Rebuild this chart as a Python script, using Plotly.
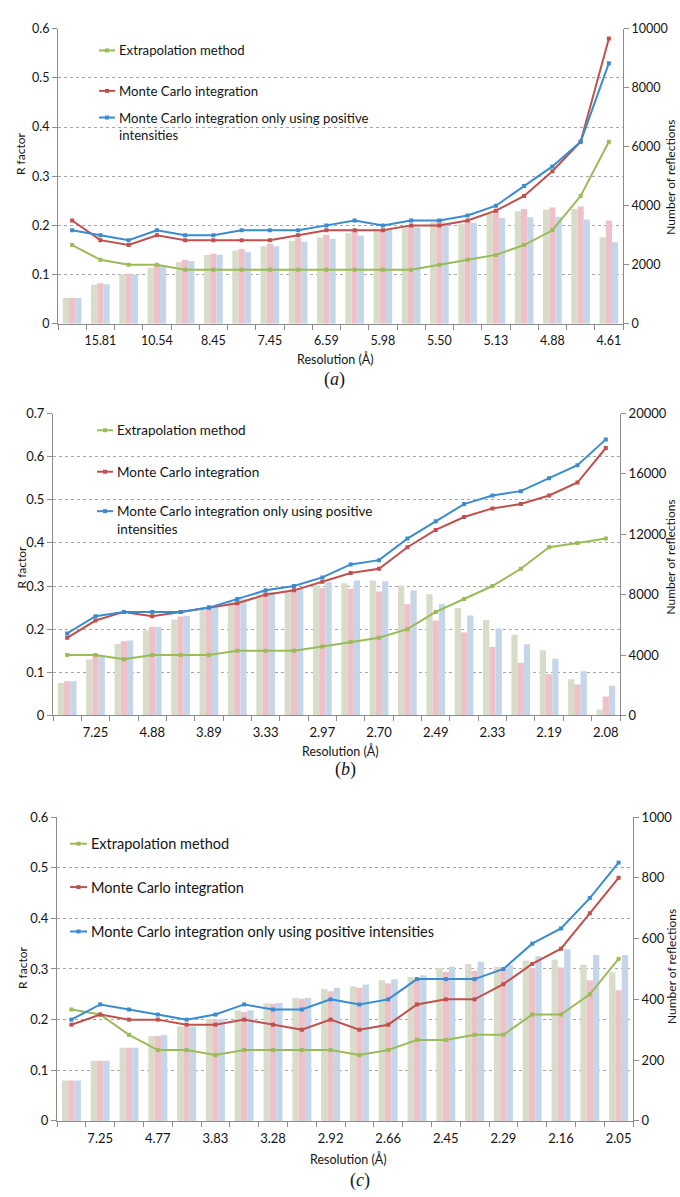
import plotly.graph_objects as go

# ---------------- data ----------------
# Resolution-shell labels (shown on every second bin)
a_labels = ["15.81", "10.54", "8.45", "7.45", "6.59", "5.98", "5.50", "5.13", "4.88", "4.61"]
b_labels = ["7.25", "4.88", "3.89", "3.33", "2.97", "2.70", "2.49", "2.33", "2.19", "2.08"]
c_labels = ["7.25", "4.77", "3.83", "3.28", "2.92", "2.66", "2.45", "2.29", "2.16", "2.05"]

# R factors per resolution shell
a_extrap = [0.16, 0.13, 0.12, 0.12, 0.11, 0.11, 0.11, 0.11, 0.11, 0.11,
            0.11, 0.11, 0.11, 0.12, 0.13, 0.14, 0.16, 0.19, 0.26, 0.37]
a_mc = [0.21, 0.17, 0.16, 0.18, 0.17, 0.17, 0.17, 0.17, 0.18, 0.19,
        0.19, 0.19, 0.20, 0.20, 0.21, 0.23, 0.26, 0.31, 0.37, 0.58]
a_pos = [0.19, 0.18, 0.17, 0.19, 0.18, 0.18, 0.19, 0.19, 0.19, 0.20,
         0.21, 0.20, 0.21, 0.21, 0.22, 0.24, 0.28, 0.32, 0.37, 0.53]

b_extrap = [0.14, 0.14, 0.13, 0.14, 0.14, 0.14, 0.15, 0.15, 0.15, 0.16,
            0.17, 0.18, 0.20, 0.24, 0.27, 0.30, 0.34, 0.39, 0.40, 0.41]
b_mc = [0.18, 0.22, 0.24, 0.23, 0.24, 0.25, 0.26, 0.28, 0.29, 0.31,
        0.33, 0.34, 0.39, 0.43, 0.46, 0.48, 0.49, 0.51, 0.54, 0.62]
b_pos = [0.19, 0.23, 0.24, 0.24, 0.24, 0.25, 0.27, 0.29, 0.30, 0.32,
         0.35, 0.36, 0.41, 0.45, 0.49, 0.51, 0.52, 0.55, 0.58, 0.64]

c_extrap = [0.22, 0.21, 0.17, 0.14, 0.14, 0.13, 0.14, 0.14, 0.14, 0.14,
            0.13, 0.14, 0.16, 0.16, 0.17, 0.17, 0.21, 0.21, 0.25, 0.32]
c_mc = [0.19, 0.21, 0.20, 0.20, 0.19, 0.19, 0.20, 0.19, 0.18, 0.20,
        0.18, 0.19, 0.23, 0.24, 0.24, 0.27, 0.31, 0.34, 0.41, 0.48]
c_pos = [0.20, 0.23, 0.22, 0.21, 0.20, 0.21, 0.23, 0.22, 0.22, 0.24,
         0.23, 0.24, 0.28, 0.28, 0.28, 0.30, 0.35, 0.38, 0.44, 0.51]

# Number of reflections per resolution shell
a_n_extrap = [870, 1320, 1670, 1900, 2090, 2330, 2480, 2630, 2810, 2920,
              3070, 3190, 3270, 3440, 3390, 3720, 3810, 3870, 3890, 2930]
a_n_mc = [870, 1370, 1690, 1990, 2170, 2370, 2530, 2710, 2910, 3020,
          3160, 3200, 3330, 3560, 3470, 3830, 3890, 3940, 3970, 3500]
a_n_pos = [870, 1340, 1670, 1970, 2130, 2340, 2430, 2630, 2780, 2870,
           2990, 3190, 3270, 3420, 3420, 3580, 3610, 3630, 3530, 2760]

b_n_extrap = [2140, 3700, 4730, 5620, 6360, 7020, 7520, 8020, 8280, 8610,
              8760, 8930, 8610, 8020, 7120, 6320, 5340, 4310, 2400, 390]
b_n_mc = [2270, 3990, 4920, 5880, 6560, 7190, 7670, 8170, 8340, 8450,
          8390, 8210, 7360, 6280, 5490, 4530, 3490, 2720, 2050, 1260]
b_n_pos = [2270, 3990, 4970, 5880, 6600, 7230, 7690, 8170, 8450, 8820,
           8930, 8890, 8280, 7360, 6620, 5750, 4710, 3750, 2920, 1960]

c_n_extrap = [133, 198, 241, 279, 311, 335, 364, 387, 405, 434,
              443, 463, 474, 504, 516, 507, 528, 530, 514, 489]
c_n_mc = [133, 198, 241, 279, 311, 335, 359, 386, 402, 427,
          438, 452, 470, 490, 494, 503, 503, 505, 463, 430]
c_n_pos = [133, 198, 241, 283, 311, 335, 364, 388, 405, 438,
           449, 466, 479, 507, 524, 514, 542, 565, 546, 546]

series_names = ["Extrapolation method", "Monte Carlo integration",
                "Monte Carlo integration only using positive intensities"]

# ---------------- styling ----------------
W, H = 680, 1197
LINE_COLORS = ["#9bbb59", "#c0504d", "#3a8bcf"]
BAR_COLORS = ["#d7ddc8", "#eec0c7", "#c4d6e7"]
AXIS_COLOR = "#8c8c8c"
GRID_COLOR = "#a6a6a6"
TEXT_COLOR = "#141414"
FONT = "Lato"


def fx(px):
    return px / W


def fy(py):
    return 1 - py / H


panels = [
    dict(labels=a_labels, lines=[a_extrap, a_mc, a_pos], bars=[a_n_extrap, a_n_mc, a_n_pos],
         x=(58, 623), y=(21, 320), rmax=0.6, nmax=10000, ndt=2000, fs=12.5,
         leg_line=(99, 115), leg_y=[43, 84, 120], leg_fs=13.2,
         leg_texts=[series_names[0], series_names[1],
                    "Monte Carlo integration only using positive<br>intensities"],
         rtitle=(20, 148), ntitle=(671, 172), xtitle=(335, 356), cap=(334, 377, "a")),
    dict(labels=b_labels, lines=[b_extrap, b_mc, b_pos], bars=[b_n_extrap, b_n_mc, b_n_pos],
         x=(53, 620), y=(411, 717), rmax=0.7, nmax=20000, ndt=4000, fs=13,
         leg_line=(97, 113), leg_y=[428, 470, 519], leg_fs=13.5,
         leg_texts=[series_names[0], series_names[1],
                    "Monte Carlo integration only using positive<br>intensities"],
         rtitle=(21, 567), ntitle=(671, 557), xtitle=(340, 753), cap=(345, 772, "b")),
    dict(labels=c_labels, lines=[c_extrap, c_mc, c_pos], bars=[c_n_extrap, c_n_mc, c_n_pos],
         x=(57, 633), y=(820, 1128), rmax=0.6, nmax=1000, ndt=200, fs=13,
         leg_line=(70, 87), leg_y=[847, 891, 936], leg_fs=14.5,
         leg_texts=series_names,
         rtitle=(23, 973), ntitle=(671, 972), xtitle=(348, 1167), cap=(360, 1188, "c")),
]

fig = go.Figure()
layout = dict(
    width=W, height=H, margin=dict(l=0, r=0, t=0, b=0),
    paper_bgcolor="white", plot_bgcolor="white",
    showlegend=False, barmode="group", bargap=0.34, bargroupgap=0,
    font=dict(family=FONT, color=TEXT_COLOR),
)
shapes, annotations = [], []

for k, p in enumerate(panels):
    xa = f"x{k + 1}"
    yb = f"y{2 * k + 1}"   # reflections axis (right)
    yl = f"y{2 * k + 2}"   # R factor axis (left), drawn on top
    n = len(p["lines"][0])
    xs = list(range(n))

    for j in range(3):
        fig.add_trace(go.Bar(x=xs, y=p["bars"][j], xaxis=xa, yaxis=yb,
                             marker=dict(color=BAR_COLORS[j], line=dict(width=0)),
                             name=series_names[j], hoverinfo="skip"))
    for j in range(3):
        fig.add_trace(go.Scatter(x=xs, y=p["lines"][j], xaxis=xa, yaxis=yl,
                                 mode="lines+markers", name=series_names[j],
                                 line=dict(color=LINE_COLORS[j], width=2),
                                 marker=dict(symbol="square", size=4, color=LINE_COLORS[j])))

    tickfont = dict(family=FONT, size=p["fs"], color=TEXT_COLOR)
    layout[f"xaxis{k + 1}"] = dict(
        domain=[fx(p["x"][0]), fx(p["x"][1])], anchor=yb,
        range=[-0.5, n - 0.5], tickmode="array",
        tickvals=[i for i in range(1, n, 2)], ticktext=p["labels"],
        ticks="outside", ticklen=5, tickcolor="rgba(0,0,0,0)",
        minor=dict(tickmode="linear", tick0=-0.5, dtick=1, ticks="outside",
                   ticklen=5, tickcolor=AXIS_COLOR, showgrid=False),
        showline=True, linecolor=AXIS_COLOR, linewidth=1,
        showgrid=False, zeroline=False, tickfont=tickfont, fixedrange=True,
    )
    layout[f"yaxis{2 * k + 1}"] = dict(
        domain=[fy(p["y"][1]), fy(p["y"][0])], anchor=xa, side="right",
        range=[0, p["nmax"]], dtick=p["ndt"], tick0=0, tickformat="d",
        ticks="outside", ticklen=5, tickcolor=AXIS_COLOR,
        showline=True, linecolor=AXIS_COLOR, linewidth=1,
        showgrid=False, zeroline=False, tickfont=tickfont, fixedrange=True,
    )
    layout[f"yaxis{2 * k + 2}"] = dict(
        overlaying=yb, anchor=xa, side="left",
        range=[0, p["rmax"]], dtick=0.1, tick0=0,
        ticks="outside", ticklen=5, tickcolor=AXIS_COLOR,
        showline=True, linecolor=AXIS_COLOR, linewidth=1,
        showgrid=True, gridcolor=GRID_COLOR, gridwidth=1, griddash="dot",
        zeroline=False, tickfont=tickfont, fixedrange=True,
    )

    # legend drawn inside the plot area
    lx0, lx1 = p["leg_line"]
    for j in range(3):
        ly = p["leg_y"][j] if j < 2 or "<br>" not in p["leg_texts"][j] else p["leg_y"][j] - 9
        shapes.append(dict(type="line", xref="paper", yref="paper",
                           x0=fx(lx0), x1=fx(lx1), y0=fy(ly), y1=fy(ly),
                           line=dict(color=LINE_COLORS[j], width=2)))
        mx = (lx0 + lx1) / 2
        shapes.append(dict(type="rect", xref="paper", yref="paper",
                           x0=fx(mx - 2), x1=fx(mx + 2), y0=fy(ly + 2), y1=fy(ly - 2),
                           fillcolor=LINE_COLORS[j], line=dict(width=0)))
        annotations.append(dict(xref="paper", yref="paper", x=fx(lx1 + 2), y=fy(p["leg_y"][j]),
                                xanchor="left", yanchor="middle", align="left",
                                text=p["leg_texts"][j], showarrow=False,
                                font=dict(family=FONT, size=p["leg_fs"], color=TEXT_COLOR)))

    # axis titles
    annotations.append(dict(xref="paper", yref="paper", x=fx(p["rtitle"][0]), y=fy(p["rtitle"][1]),
                            text="R factor", textangle=-90, showarrow=False,
                            xanchor="center", yanchor="middle",
                            font=dict(family=FONT, size=12, color=TEXT_COLOR)))
    annotations.append(dict(xref="paper", yref="paper", x=fx(p["ntitle"][0]), y=fy(p["ntitle"][1]),
                            text="Number of reflections", textangle=-90, showarrow=False,
                            xanchor="center", yanchor="middle",
                            font=dict(family=FONT, size=12, color=TEXT_COLOR)))
    annotations.append(dict(xref="paper", yref="paper", x=fx(p["xtitle"][0]), y=fy(p["xtitle"][1]),
                            text="Resolution (Å)", showarrow=False,
                            xanchor="center", yanchor="middle",
                            font=dict(family=FONT, size=12.5, color=TEXT_COLOR)))
    cx, cy, letter = p["cap"]
    annotations.append(dict(xref="paper", yref="paper", x=fx(cx), y=fy(cy),
                            text=f"(<i>{letter}</i>)", showarrow=False,
                            xanchor="center", yanchor="middle",
                            font=dict(family="Liberation Serif", size=18, color=TEXT_COLOR)))

layout["shapes"] = shapes
layout["annotations"] = annotations
fig.update_layout(**layout)

fig.write_html("out.html")
